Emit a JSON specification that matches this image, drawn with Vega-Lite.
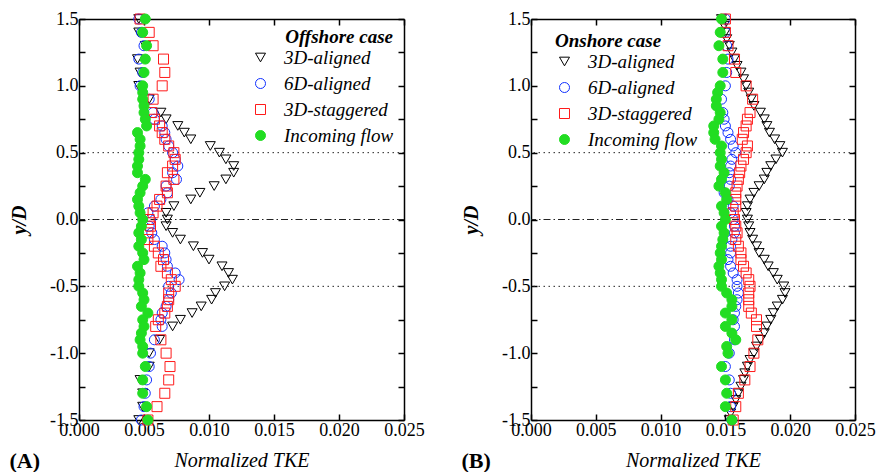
{
"$schema":"https://vega.github.io/schema/vega-lite/v6.json",
"background":"white",
"padding":{"left":9,"top":10,"right":0,"bottom":0},
"config":{
 "font":"Liberation Serif, Times New Roman, Times, serif",
 "view":{"stroke":null},
 "axis":{"labelFont":"Liberation Serif, Times New Roman, Times, serif","labelFontSize":18,"labelColor":"black","labelFlush":false,"titleFont":"Liberation Serif, Times New Roman, Times, serif","titleColor":"black","titleFontSize":20,"titleFontStyle":"italic","titleFontWeight":"normal","domainColor":"black","domainWidth":1.5,"tickColor":"black","tickSize":-6,"tickWidth":1.5,"grid":false,"labelPadding":7},
 "legend":{"labelFont":"Liberation Serif, Times New Roman, Times, serif","labelFontSize":19,"labelFontStyle":"italic","labelColor":"black","titleFont":"Liberation Serif, Times New Roman, Times, serif","titleFontSize":19,"titleFontStyle":"italic","titleFontWeight":"bold","titleColor":"black","symbolSize":100,"symbolStrokeWidth":1,"symbolStrokeColor":"#ff1a1a","symbolFillColor":"transparent","rowPadding":6,"labelOffset":14,"padding":0,"titlePadding":1},
 "title":{"font":"Liberation Serif, Times New Roman, Times, serif","fontSize":22,"fontWeight":"bold","color":"black"}
},
"datasets":{
"offshore":[
{"s":"3D-aligned","y":1.5,"v":0.0046},{"s":"3D-aligned","y":1.4,"v":0.0046},{"s":"3D-aligned","y":1.3,"v":0.0051},{"s":"3D-aligned","y":1.2,"v":0.0045},{"s":"3D-aligned","y":1.1,"v":0.0047},{"s":"3D-aligned","y":1.0,"v":0.0046},{"s":"3D-aligned","y":0.9,"v":0.0054},{"s":"3D-aligned","y":0.8,"v":0.0063},{"s":"3D-aligned","y":0.75,"v":0.0067},{"s":"3D-aligned","y":0.7,"v":0.0076},{"s":"3D-aligned","y":0.65,"v":0.0081},{"s":"3D-aligned","y":0.6,"v":0.0086},{"s":"3D-aligned","y":0.55,"v":0.0101},{"s":"3D-aligned","y":0.5,"v":0.0108},{"s":"3D-aligned","y":0.45,"v":0.0113},{"s":"3D-aligned","y":0.4,"v":0.0119},{"s":"3D-aligned","y":0.35,"v":0.0119},{"s":"3D-aligned","y":0.3,"v":0.0113},{"s":"3D-aligned","y":0.25,"v":0.0104},{"s":"3D-aligned","y":0.2,"v":0.0093},{"s":"3D-aligned","y":0.15,"v":0.0086},{"s":"3D-aligned","y":0.1,"v":0.0073},{"s":"3D-aligned","y":0.05,"v":0.0067},{"s":"3D-aligned","y":0,"v":0.0068},{"s":"3D-aligned","y":-0.05,"v":0.0067},{"s":"3D-aligned","y":-0.1,"v":0.0072},{"s":"3D-aligned","y":-0.15,"v":0.0078},{"s":"3D-aligned","y":-0.2,"v":0.0088},{"s":"3D-aligned","y":-0.25,"v":0.0095},{"s":"3D-aligned","y":-0.3,"v":0.0100},{"s":"3D-aligned","y":-0.35,"v":0.0110},{"s":"3D-aligned","y":-0.4,"v":0.0115},{"s":"3D-aligned","y":-0.45,"v":0.0118},{"s":"3D-aligned","y":-0.5,"v":0.0112},{"s":"3D-aligned","y":-0.55,"v":0.0105},{"s":"3D-aligned","y":-0.6,"v":0.0102},{"s":"3D-aligned","y":-0.65,"v":0.0094},{"s":"3D-aligned","y":-0.7,"v":0.0087},{"s":"3D-aligned","y":-0.75,"v":0.0078},{"s":"3D-aligned","y":-0.8,"v":0.0072},{"s":"3D-aligned","y":-0.9,"v":0.0062},{"s":"3D-aligned","y":-1.0,"v":0.0054},{"s":"3D-aligned","y":-1.1,"v":0.0054},{"s":"3D-aligned","y":-1.2,"v":0.0047},{"s":"3D-aligned","y":-1.3,"v":0.0049},{"s":"3D-aligned","y":-1.4,"v":0.0049},{"s":"3D-aligned","y":-1.5,"v":0.0046},
{"s":"6D-aligned","y":1.5,"v":0.0046},{"s":"6D-aligned","y":1.4,"v":0.0048},{"s":"6D-aligned","y":1.3,"v":0.0050},{"s":"6D-aligned","y":1.2,"v":0.0046},{"s":"6D-aligned","y":1.1,"v":0.0049},{"s":"6D-aligned","y":1.0,"v":0.0047},{"s":"6D-aligned","y":0.9,"v":0.0054},{"s":"6D-aligned","y":0.8,"v":0.0057},{"s":"6D-aligned","y":0.75,"v":0.0058},{"s":"6D-aligned","y":0.7,"v":0.0064},{"s":"6D-aligned","y":0.65,"v":0.0066},{"s":"6D-aligned","y":0.6,"v":0.0067},{"s":"6D-aligned","y":0.55,"v":0.0069},{"s":"6D-aligned","y":0.5,"v":0.0072},{"s":"6D-aligned","y":0.45,"v":0.0074},{"s":"6D-aligned","y":0.4,"v":0.0076},{"s":"6D-aligned","y":0.35,"v":0.0072},{"s":"6D-aligned","y":0.3,"v":0.0075},{"s":"6D-aligned","y":0.25,"v":0.0067},{"s":"6D-aligned","y":0.2,"v":0.0068},{"s":"6D-aligned","y":0.15,"v":0.0063},{"s":"6D-aligned","y":0.1,"v":0.0058},{"s":"6D-aligned","y":0.05,"v":0.0053},{"s":"6D-aligned","y":0,"v":0.0055},{"s":"6D-aligned","y":-0.05,"v":0.0054},{"s":"6D-aligned","y":-0.1,"v":0.0056},{"s":"6D-aligned","y":-0.15,"v":0.0058},{"s":"6D-aligned","y":-0.2,"v":0.0064},{"s":"6D-aligned","y":-0.25,"v":0.0066},{"s":"6D-aligned","y":-0.3,"v":0.0067},{"s":"6D-aligned","y":-0.35,"v":0.0068},{"s":"6D-aligned","y":-0.4,"v":0.0074},{"s":"6D-aligned","y":-0.45,"v":0.0077},{"s":"6D-aligned","y":-0.5,"v":0.0069},{"s":"6D-aligned","y":-0.55,"v":0.0071},{"s":"6D-aligned","y":-0.6,"v":0.0069},{"s":"6D-aligned","y":-0.65,"v":0.0067},{"s":"6D-aligned","y":-0.7,"v":0.0064},{"s":"6D-aligned","y":-0.75,"v":0.0063},{"s":"6D-aligned","y":-0.8,"v":0.0064},{"s":"6D-aligned","y":-0.9,"v":0.0058},{"s":"6D-aligned","y":-1.0,"v":0.0055},{"s":"6D-aligned","y":-1.1,"v":0.0054},{"s":"6D-aligned","y":-1.2,"v":0.0052},{"s":"6D-aligned","y":-1.3,"v":0.0051},{"s":"6D-aligned","y":-1.4,"v":0.0050},{"s":"6D-aligned","y":-1.5,"v":0.0048},
{"s":"3D-staggered","y":1.5,"v":0.0047},{"s":"3D-staggered","y":1.4,"v":0.0054},{"s":"3D-staggered","y":1.3,"v":0.0057},{"s":"3D-staggered","y":1.2,"v":0.0065},{"s":"3D-staggered","y":1.1,"v":0.0066},{"s":"3D-staggered","y":1.0,"v":0.0064},{"s":"3D-staggered","y":0.9,"v":0.0057},{"s":"3D-staggered","y":0.8,"v":0.0056},{"s":"3D-staggered","y":0.75,"v":0.0058},{"s":"3D-staggered","y":0.7,"v":0.0062},{"s":"3D-staggered","y":0.65,"v":0.0064},{"s":"3D-staggered","y":0.6,"v":0.0066},{"s":"3D-staggered","y":0.55,"v":0.0069},{"s":"3D-staggered","y":0.5,"v":0.0073},{"s":"3D-staggered","y":0.45,"v":0.0074},{"s":"3D-staggered","y":0.4,"v":0.0072},{"s":"3D-staggered","y":0.35,"v":0.0068},{"s":"3D-staggered","y":0.3,"v":0.0073},{"s":"3D-staggered","y":0.25,"v":0.0067},{"s":"3D-staggered","y":0.2,"v":0.0068},{"s":"3D-staggered","y":0.15,"v":0.0062},{"s":"3D-staggered","y":0.1,"v":0.0060},{"s":"3D-staggered","y":0.05,"v":0.0057},{"s":"3D-staggered","y":0,"v":0.0054},{"s":"3D-staggered","y":-0.05,"v":0.0055},{"s":"3D-staggered","y":-0.1,"v":0.0053},{"s":"3D-staggered","y":-0.15,"v":0.0053},{"s":"3D-staggered","y":-0.2,"v":0.0058},{"s":"3D-staggered","y":-0.25,"v":0.0061},{"s":"3D-staggered","y":-0.3,"v":0.0065},{"s":"3D-staggered","y":-0.35,"v":0.0063},{"s":"3D-staggered","y":-0.4,"v":0.0068},{"s":"3D-staggered","y":-0.45,"v":0.0071},{"s":"3D-staggered","y":-0.5,"v":0.0074},{"s":"3D-staggered","y":-0.55,"v":0.0069},{"s":"3D-staggered","y":-0.6,"v":0.0069},{"s":"3D-staggered","y":-0.65,"v":0.0068},{"s":"3D-staggered","y":-0.7,"v":0.0066},{"s":"3D-staggered","y":-0.75,"v":0.0061},{"s":"3D-staggered","y":-0.8,"v":0.0059},{"s":"3D-staggered","y":-0.9,"v":0.0063},{"s":"3D-staggered","y":-1.0,"v":0.0067},{"s":"3D-staggered","y":-1.1,"v":0.0070},{"s":"3D-staggered","y":-1.2,"v":0.0069},{"s":"3D-staggered","y":-1.3,"v":0.0066},{"s":"3D-staggered","y":-1.4,"v":0.0060},{"s":"3D-staggered","y":-1.5,"v":0.0053},
{"s":"Incoming flow","y":1.5,"v":0.0051},{"s":"Incoming flow","y":1.4,"v":0.0049},{"s":"Incoming flow","y":1.3,"v":0.0052},{"s":"Incoming flow","y":1.2,"v":0.0051},{"s":"Incoming flow","y":1.1,"v":0.0050},{"s":"Incoming flow","y":1.0,"v":0.0049},{"s":"Incoming flow","y":0.95,"v":0.0049},{"s":"Incoming flow","y":0.9,"v":0.0049},{"s":"Incoming flow","y":0.85,"v":0.0050},{"s":"Incoming flow","y":0.8,"v":0.0050},{"s":"Incoming flow","y":0.75,"v":0.0051},{"s":"Incoming flow","y":0.7,"v":0.0052},{"s":"Incoming flow","y":0.65,"v":0.0045},{"s":"Incoming flow","y":0.6,"v":0.0047},{"s":"Incoming flow","y":0.55,"v":0.0047},{"s":"Incoming flow","y":0.5,"v":0.0046},{"s":"Incoming flow","y":0.45,"v":0.0046},{"s":"Incoming flow","y":0.4,"v":0.0045},{"s":"Incoming flow","y":0.35,"v":0.0045},{"s":"Incoming flow","y":0.3,"v":0.0051},{"s":"Incoming flow","y":0.25,"v":0.0049},{"s":"Incoming flow","y":0.2,"v":0.0047},{"s":"Incoming flow","y":0.15,"v":0.0045},{"s":"Incoming flow","y":0.1,"v":0.0046},{"s":"Incoming flow","y":0.05,"v":0.0047},{"s":"Incoming flow","y":0,"v":0.0049},{"s":"Incoming flow","y":-0.05,"v":0.0048},{"s":"Incoming flow","y":-0.1,"v":0.0046},{"s":"Incoming flow","y":-0.15,"v":0.0048},{"s":"Incoming flow","y":-0.2,"v":0.0046},{"s":"Incoming flow","y":-0.25,"v":0.0049},{"s":"Incoming flow","y":-0.3,"v":0.0050},{"s":"Incoming flow","y":-0.35,"v":0.0045},{"s":"Incoming flow","y":-0.4,"v":0.0047},{"s":"Incoming flow","y":-0.45,"v":0.0046},{"s":"Incoming flow","y":-0.5,"v":0.0046},{"s":"Incoming flow","y":-0.55,"v":0.0049},{"s":"Incoming flow","y":-0.6,"v":0.0050},{"s":"Incoming flow","y":-0.65,"v":0.0048},{"s":"Incoming flow","y":-0.7,"v":0.0053},{"s":"Incoming flow","y":-0.75,"v":0.0049},{"s":"Incoming flow","y":-0.8,"v":0.0050},{"s":"Incoming flow","y":-0.85,"v":0.0048},{"s":"Incoming flow","y":-0.9,"v":0.0047},{"s":"Incoming flow","y":-0.95,"v":0.0049},{"s":"Incoming flow","y":-1.0,"v":0.0049},{"s":"Incoming flow","y":-1.1,"v":0.0051},{"s":"Incoming flow","y":-1.2,"v":0.0049},{"s":"Incoming flow","y":-1.3,"v":0.0049},{"s":"Incoming flow","y":-1.4,"v":0.0052},{"s":"Incoming flow","y":-1.5,"v":0.0053}
],
"onshore":[
{"s":"3D-aligned","y":1.5,"v":0.0147},{"s":"3D-aligned","y":1.45,"v":0.0149},{"s":"3D-aligned","y":1.4,"v":0.0150},{"s":"3D-aligned","y":1.35,"v":0.0151},{"s":"3D-aligned","y":1.3,"v":0.0153},{"s":"3D-aligned","y":1.25,"v":0.0155},{"s":"3D-aligned","y":1.2,"v":0.0157},{"s":"3D-aligned","y":1.15,"v":0.0159},{"s":"3D-aligned","y":1.1,"v":0.0162},{"s":"3D-aligned","y":1.05,"v":0.0164},{"s":"3D-aligned","y":1.0,"v":0.0166},{"s":"3D-aligned","y":0.95,"v":0.0168},{"s":"3D-aligned","y":0.9,"v":0.0170},{"s":"3D-aligned","y":0.85,"v":0.0172},{"s":"3D-aligned","y":0.8,"v":0.0177},{"s":"3D-aligned","y":0.75,"v":0.0180},{"s":"3D-aligned","y":0.7,"v":0.0182},{"s":"3D-aligned","y":0.65,"v":0.0184},{"s":"3D-aligned","y":0.6,"v":0.0188},{"s":"3D-aligned","y":0.55,"v":0.0192},{"s":"3D-aligned","y":0.5,"v":0.0194},{"s":"3D-aligned","y":0.45,"v":0.0189},{"s":"3D-aligned","y":0.4,"v":0.0185},{"s":"3D-aligned","y":0.35,"v":0.0182},{"s":"3D-aligned","y":0.3,"v":0.0180},{"s":"3D-aligned","y":0.25,"v":0.0176},{"s":"3D-aligned","y":0.2,"v":0.0172},{"s":"3D-aligned","y":0.15,"v":0.0169},{"s":"3D-aligned","y":0.1,"v":0.0167},{"s":"3D-aligned","y":0.05,"v":0.0166},{"s":"3D-aligned","y":0,"v":0.0167},{"s":"3D-aligned","y":-0.05,"v":0.0168},{"s":"3D-aligned","y":-0.1,"v":0.0169},{"s":"3D-aligned","y":-0.15,"v":0.0171},{"s":"3D-aligned","y":-0.2,"v":0.0174},{"s":"3D-aligned","y":-0.25,"v":0.0176},{"s":"3D-aligned","y":-0.3,"v":0.0180},{"s":"3D-aligned","y":-0.35,"v":0.0183},{"s":"3D-aligned","y":-0.4,"v":0.0187},{"s":"3D-aligned","y":-0.45,"v":0.0190},{"s":"3D-aligned","y":-0.5,"v":0.0195},{"s":"3D-aligned","y":-0.55,"v":0.0196},{"s":"3D-aligned","y":-0.6,"v":0.0194},{"s":"3D-aligned","y":-0.65,"v":0.0190},{"s":"3D-aligned","y":-0.7,"v":0.0187},{"s":"3D-aligned","y":-0.75,"v":0.0185},{"s":"3D-aligned","y":-0.8,"v":0.0182},{"s":"3D-aligned","y":-0.85,"v":0.0180},{"s":"3D-aligned","y":-0.9,"v":0.0177},{"s":"3D-aligned","y":-0.95,"v":0.0174},{"s":"3D-aligned","y":-1.0,"v":0.0172},{"s":"3D-aligned","y":-1.05,"v":0.0169},{"s":"3D-aligned","y":-1.1,"v":0.0167},{"s":"3D-aligned","y":-1.15,"v":0.0165},{"s":"3D-aligned","y":-1.2,"v":0.0164},{"s":"3D-aligned","y":-1.25,"v":0.0162},{"s":"3D-aligned","y":-1.3,"v":0.0160},{"s":"3D-aligned","y":-1.35,"v":0.0158},{"s":"3D-aligned","y":-1.4,"v":0.0156},{"s":"3D-aligned","y":-1.45,"v":0.0154},{"s":"3D-aligned","y":-1.5,"v":0.0153},
{"s":"6D-aligned","y":1.5,"v":0.0150},{"s":"6D-aligned","y":1.4,"v":0.0150},{"s":"6D-aligned","y":1.3,"v":0.0151},{"s":"6D-aligned","y":1.2,"v":0.0152},{"s":"6D-aligned","y":1.1,"v":0.0151},{"s":"6D-aligned","y":1.0,"v":0.0150},{"s":"6D-aligned","y":0.9,"v":0.0147},{"s":"6D-aligned","y":0.8,"v":0.0148},{"s":"6D-aligned","y":0.75,"v":0.0149},{"s":"6D-aligned","y":0.7,"v":0.0150},{"s":"6D-aligned","y":0.65,"v":0.0152},{"s":"6D-aligned","y":0.6,"v":0.0154},{"s":"6D-aligned","y":0.55,"v":0.0156},{"s":"6D-aligned","y":0.5,"v":0.0158},{"s":"6D-aligned","y":0.45,"v":0.0155},{"s":"6D-aligned","y":0.4,"v":0.0154},{"s":"6D-aligned","y":0.35,"v":0.0153},{"s":"6D-aligned","y":0.3,"v":0.0154},{"s":"6D-aligned","y":0.25,"v":0.0153},{"s":"6D-aligned","y":0.2,"v":0.0149},{"s":"6D-aligned","y":0.15,"v":0.0152},{"s":"6D-aligned","y":0.1,"v":0.0156},{"s":"6D-aligned","y":0.05,"v":0.0154},{"s":"6D-aligned","y":0,"v":0.0156},{"s":"6D-aligned","y":-0.05,"v":0.0157},{"s":"6D-aligned","y":-0.1,"v":0.0157},{"s":"6D-aligned","y":-0.15,"v":0.0155},{"s":"6D-aligned","y":-0.2,"v":0.0154},{"s":"6D-aligned","y":-0.25,"v":0.0154},{"s":"6D-aligned","y":-0.3,"v":0.0152},{"s":"6D-aligned","y":-0.35,"v":0.0154},{"s":"6D-aligned","y":-0.4,"v":0.0156},{"s":"6D-aligned","y":-0.45,"v":0.0159},{"s":"6D-aligned","y":-0.5,"v":0.0159},{"s":"6D-aligned","y":-0.55,"v":0.0160},{"s":"6D-aligned","y":-0.6,"v":0.0159},{"s":"6D-aligned","y":-0.65,"v":0.0158},{"s":"6D-aligned","y":-0.7,"v":0.0157},{"s":"6D-aligned","y":-0.75,"v":0.0156},{"s":"6D-aligned","y":-0.8,"v":0.0157},{"s":"6D-aligned","y":-0.9,"v":0.0157},{"s":"6D-aligned","y":-1.0,"v":0.0153},{"s":"6D-aligned","y":-1.1,"v":0.0150},{"s":"6D-aligned","y":-1.2,"v":0.0153},{"s":"6D-aligned","y":-1.3,"v":0.0154},{"s":"6D-aligned","y":-1.4,"v":0.0154},{"s":"6D-aligned","y":-1.5,"v":0.0155},
{"s":"3D-staggered","y":1.5,"v":0.0150},{"s":"3D-staggered","y":1.4,"v":0.0150},{"s":"3D-staggered","y":1.3,"v":0.0152},{"s":"3D-staggered","y":1.2,"v":0.0157},{"s":"3D-staggered","y":1.1,"v":0.0158},{"s":"3D-staggered","y":1.0,"v":0.0166},{"s":"3D-staggered","y":0.9,"v":0.0171},{"s":"3D-staggered","y":0.8,"v":0.0169},{"s":"3D-staggered","y":0.75,"v":0.0167},{"s":"3D-staggered","y":0.7,"v":0.0166},{"s":"3D-staggered","y":0.65,"v":0.0164},{"s":"3D-staggered","y":0.6,"v":0.0163},{"s":"3D-staggered","y":0.55,"v":0.0167},{"s":"3D-staggered","y":0.5,"v":0.0166},{"s":"3D-staggered","y":0.45,"v":0.0164},{"s":"3D-staggered","y":0.4,"v":0.0162},{"s":"3D-staggered","y":0.35,"v":0.0161},{"s":"3D-staggered","y":0.3,"v":0.0160},{"s":"3D-staggered","y":0.25,"v":0.0159},{"s":"3D-staggered","y":0.2,"v":0.0158},{"s":"3D-staggered","y":0.15,"v":0.0158},{"s":"3D-staggered","y":0.1,"v":0.0158},{"s":"3D-staggered","y":0.05,"v":0.0156},{"s":"3D-staggered","y":0,"v":0.0157},{"s":"3D-staggered","y":-0.05,"v":0.0158},{"s":"3D-staggered","y":-0.1,"v":0.0159},{"s":"3D-staggered","y":-0.15,"v":0.0158},{"s":"3D-staggered","y":-0.2,"v":0.0160},{"s":"3D-staggered","y":-0.25,"v":0.0162},{"s":"3D-staggered","y":-0.3,"v":0.0162},{"s":"3D-staggered","y":-0.35,"v":0.0164},{"s":"3D-staggered","y":-0.4,"v":0.0166},{"s":"3D-staggered","y":-0.45,"v":0.0168},{"s":"3D-staggered","y":-0.5,"v":0.0169},{"s":"3D-staggered","y":-0.55,"v":0.0168},{"s":"3D-staggered","y":-0.6,"v":0.0168},{"s":"3D-staggered","y":-0.65,"v":0.0168},{"s":"3D-staggered","y":-0.7,"v":0.0170},{"s":"3D-staggered","y":-0.75,"v":0.0174},{"s":"3D-staggered","y":-0.8,"v":0.0174},{"s":"3D-staggered","y":-0.9,"v":0.0175},{"s":"3D-staggered","y":-1.0,"v":0.0172},{"s":"3D-staggered","y":-1.1,"v":0.0169},{"s":"3D-staggered","y":-1.2,"v":0.0165},{"s":"3D-staggered","y":-1.3,"v":0.0160},{"s":"3D-staggered","y":-1.4,"v":0.0158},{"s":"3D-staggered","y":-1.5,"v":0.0156},
{"s":"Incoming flow","y":1.5,"v":0.0147},{"s":"Incoming flow","y":1.4,"v":0.0146},{"s":"Incoming flow","y":1.3,"v":0.0145},{"s":"Incoming flow","y":1.2,"v":0.0148},{"s":"Incoming flow","y":1.1,"v":0.0148},{"s":"Incoming flow","y":1.0,"v":0.0146},{"s":"Incoming flow","y":0.95,"v":0.0144},{"s":"Incoming flow","y":0.9,"v":0.0143},{"s":"Incoming flow","y":0.85,"v":0.0143},{"s":"Incoming flow","y":0.8,"v":0.0146},{"s":"Incoming flow","y":0.75,"v":0.0145},{"s":"Incoming flow","y":0.7,"v":0.0141},{"s":"Incoming flow","y":0.65,"v":0.0141},{"s":"Incoming flow","y":0.6,"v":0.0142},{"s":"Incoming flow","y":0.55,"v":0.0147},{"s":"Incoming flow","y":0.5,"v":0.0146},{"s":"Incoming flow","y":0.45,"v":0.0147},{"s":"Incoming flow","y":0.4,"v":0.0146},{"s":"Incoming flow","y":0.35,"v":0.0149},{"s":"Incoming flow","y":0.3,"v":0.0147},{"s":"Incoming flow","y":0.25,"v":0.0145},{"s":"Incoming flow","y":0.2,"v":0.0150},{"s":"Incoming flow","y":0.15,"v":0.0151},{"s":"Incoming flow","y":0.1,"v":0.0147},{"s":"Incoming flow","y":0.05,"v":0.0149},{"s":"Incoming flow","y":0,"v":0.0150},{"s":"Incoming flow","y":-0.05,"v":0.0147},{"s":"Incoming flow","y":-0.1,"v":0.0149},{"s":"Incoming flow","y":-0.15,"v":0.0148},{"s":"Incoming flow","y":-0.2,"v":0.0147},{"s":"Incoming flow","y":-0.25,"v":0.0146},{"s":"Incoming flow","y":-0.3,"v":0.0147},{"s":"Incoming flow","y":-0.35,"v":0.0145},{"s":"Incoming flow","y":-0.4,"v":0.0146},{"s":"Incoming flow","y":-0.45,"v":0.0147},{"s":"Incoming flow","y":-0.5,"v":0.0147},{"s":"Incoming flow","y":-0.55,"v":0.0151},{"s":"Incoming flow","y":-0.6,"v":0.0155},{"s":"Incoming flow","y":-0.65,"v":0.0155},{"s":"Incoming flow","y":-0.7,"v":0.0150},{"s":"Incoming flow","y":-0.75,"v":0.0155},{"s":"Incoming flow","y":-0.8,"v":0.0150},{"s":"Incoming flow","y":-0.85,"v":0.0155},{"s":"Incoming flow","y":-0.9,"v":0.0158},{"s":"Incoming flow","y":-0.95,"v":0.0151},{"s":"Incoming flow","y":-1.0,"v":0.0152},{"s":"Incoming flow","y":-1.1,"v":0.0147},{"s":"Incoming flow","y":-1.2,"v":0.0150},{"s":"Incoming flow","y":-1.3,"v":0.0151},{"s":"Incoming flow","y":-1.4,"v":0.0150},{"s":"Incoming flow","y":-1.5,"v":0.0155}
]
},
"spacing":36,
"hconcat":[
{
 "width":325,"height":401,
 "title":{"text":"(A)","orient":"bottom","anchor":"start","frame":"bounds","offset":-19},
 "layer":[
  {"data":{"values":[{"y":0.5},{"y":-0.5}]},"mark":{"type":"rule","strokeDash":[1.5,3.5],"strokeWidth":1,"color":"#222"},"encoding":{"y":{"field":"y","type":"quantitative","axis":null,"scale":{"domain":[-1.5,1.5],"nice":false,"zero":false}}}},
  {"data":{"values":[{"y":0}]},"mark":{"type":"rule","strokeDash":[7,3,1.5,3],"strokeWidth":1,"color":"#222"},"encoding":{"y":{"field":"y","type":"quantitative","axis":null,"scale":{"domain":[-1.5,1.5],"nice":false,"zero":false}}}},
  {"data":{"name":"offshore"},"mark":{"type":"point","opacity":0},
   "encoding":{
    "x":{"field":"v","type":"quantitative","scale":{"domain":[0,0.025],"nice":false,"zero":false},"axis":{"orient":"top","labels":false,"title":null,"values":[0,0.005,0.01,0.015,0.02,0.025]}},
    "y":{"field":"y","type":"quantitative","scale":{"domain":[-1.5,1.5],"nice":false,"zero":false},"axis":{"orient":"right","labels":false,"title":null,"values":[-1.5,-1.25,-1,-0.75,-0.5,-0.25,0,0.25,0.5,0.75,1,1.25,1.5]}}}},
  {"data":{"name":"offshore"},"mark":{"type":"point","filled":false,"size":100,"strokeWidth":1,"opacity":1},
   "encoding":{
    "x":{"field":"v","type":"quantitative","scale":{"domain":[0,0.025],"nice":false,"zero":false},"axis":{"orient":"bottom","title":"Normalized TKE","titlePadding":11,"values":[0,0.005,0.01,0.015,0.02,0.025],"format":".3f"}},
    "y":{"field":"y","type":"quantitative","scale":{"domain":[-1.5,1.5],"nice":false,"zero":false},"axis":{"orient":"left","title":"y/D","titleFontWeight":"bold","titlePadding":20,"values":[-1.5,-1.25,-1,-0.75,-0.5,-0.25,0,0.25,0.5,0.75,1,1.25,1.5],"labelExpr":"datum.value % 0.5 == 0 ? (datum.value < 0 ? '-' : '') + format(abs(datum.value), '.1f') : ''"}},
    "shape":{"field":"s","type":"nominal","scale":{"domain":["3D-aligned","6D-aligned","3D-staggered","Incoming flow"],"range":["triangle-down","circle","square","circle"]},"legend":{"title":"Offshore case","orient":"none","legendX":172,"legendY":9,"titleAnchor":"end","encode":{"symbols":{"update":{"stroke":{"signal":"datum.value === '3D-aligned' ? 'black' : datum.value === '6D-aligned' ? '#1030ff' : datum.value === '3D-staggered' ? '#ff1a1a' : '#22dd22'"},"fill":{"signal":"datum.value === 'Incoming flow' ? '#22dd22' : 'transparent'"}}}}}},
    "color":{"field":"s","type":"nominal","scale":{"domain":["3D-aligned","6D-aligned","3D-staggered","Incoming flow"],"range":["black","#1030ff","#ff1a1a","#22dd22"]},"legend":{"title":"Offshore case","orient":"none","legendX":172,"legendY":9,"titleAnchor":"end","encode":{"symbols":{"update":{"stroke":{"signal":"datum.value === '3D-aligned' ? 'black' : datum.value === '6D-aligned' ? '#1030ff' : datum.value === '3D-staggered' ? '#ff1a1a' : '#22dd22'"},"fill":{"signal":"datum.value === 'Incoming flow' ? '#22dd22' : 'transparent'"}}}}}},
    "fill":{"field":"s","type":"nominal","scale":{"domain":["3D-aligned","6D-aligned","3D-staggered","Incoming flow"],"range":["transparent","transparent","transparent","#22dd22"]},"legend":{"title":"Offshore case","orient":"none","legendX":172,"legendY":9,"titleAnchor":"end","encode":{"symbols":{"update":{"stroke":{"signal":"datum.value === '3D-aligned' ? 'black' : datum.value === '6D-aligned' ? '#1030ff' : datum.value === '3D-staggered' ? '#ff1a1a' : '#22dd22'"},"fill":{"signal":"datum.value === 'Incoming flow' ? '#22dd22' : 'transparent'"}}}}}}
   }}
 ],
 "resolve":{"axis":{"x":"independent","y":"independent"}}
},
{
 "width":324,"height":401,
 "title":{"text":"(B)","orient":"bottom","anchor":"start","frame":"bounds","offset":-19},
 "layer":[
  {"data":{"values":[{"y":0.5},{"y":-0.5}]},"mark":{"type":"rule","strokeDash":[1.5,3.5],"strokeWidth":1,"color":"#222"},"encoding":{"y":{"field":"y","type":"quantitative","axis":null,"scale":{"domain":[-1.5,1.5],"nice":false,"zero":false}}}},
  {"data":{"values":[{"y":0}]},"mark":{"type":"rule","strokeDash":[7,3,1.5,3],"strokeWidth":1,"color":"#222"},"encoding":{"y":{"field":"y","type":"quantitative","axis":null,"scale":{"domain":[-1.5,1.5],"nice":false,"zero":false}}}},
  {"data":{"name":"onshore"},"mark":{"type":"point","opacity":0},
   "encoding":{
    "x":{"field":"v","type":"quantitative","scale":{"domain":[0,0.025],"nice":false,"zero":false},"axis":{"orient":"top","labels":false,"title":null,"values":[0,0.005,0.01,0.015,0.02,0.025]}},
    "y":{"field":"y","type":"quantitative","scale":{"domain":[-1.5,1.5],"nice":false,"zero":false},"axis":{"orient":"right","labels":false,"title":null,"values":[-1.5,-1.25,-1,-0.75,-0.5,-0.25,0,0.25,0.5,0.75,1,1.25,1.5]}}}},
  {"data":{"name":"onshore"},"mark":{"type":"point","filled":false,"size":100,"strokeWidth":1,"opacity":1},
   "encoding":{
    "x":{"field":"v","type":"quantitative","scale":{"domain":[0,0.025],"nice":false,"zero":false},"axis":{"orient":"bottom","title":"Normalized TKE","titlePadding":11,"values":[0,0.005,0.01,0.015,0.02,0.025],"format":".3f"}},
    "y":{"field":"y","type":"quantitative","scale":{"domain":[-1.5,1.5],"nice":false,"zero":false},"axis":{"orient":"left","title":"y/D","titleFontWeight":"bold","titlePadding":20,"values":[-1.5,-1.25,-1,-0.75,-0.5,-0.25,0,0.25,0.5,0.75,1,1.25,1.5],"labelExpr":"datum.value % 0.5 == 0 ? (datum.value < 0 ? '-' : '') + format(abs(datum.value), '.1f') : ''"}},
    "shape":{"field":"s","type":"nominal","scale":{"domain":["3D-aligned","6D-aligned","3D-staggered","Incoming flow"],"range":["triangle-down","circle","square","circle"]},"legend":{"title":"Onshore case","orient":"none","legendX":24,"legendY":13,"titleAnchor":"start","encode":{"symbols":{"update":{"stroke":{"signal":"datum.value === '3D-aligned' ? 'black' : datum.value === '6D-aligned' ? '#1030ff' : datum.value === '3D-staggered' ? '#ff1a1a' : '#22dd22'"},"fill":{"signal":"datum.value === 'Incoming flow' ? '#22dd22' : 'transparent'"}}}}}},
    "color":{"field":"s","type":"nominal","scale":{"domain":["3D-aligned","6D-aligned","3D-staggered","Incoming flow"],"range":["black","#1030ff","#ff1a1a","#22dd22"]},"legend":{"title":"Onshore case","orient":"none","legendX":24,"legendY":13,"titleAnchor":"start","encode":{"symbols":{"update":{"stroke":{"signal":"datum.value === '3D-aligned' ? 'black' : datum.value === '6D-aligned' ? '#1030ff' : datum.value === '3D-staggered' ? '#ff1a1a' : '#22dd22'"},"fill":{"signal":"datum.value === 'Incoming flow' ? '#22dd22' : 'transparent'"}}}}}},
    "fill":{"field":"s","type":"nominal","scale":{"domain":["3D-aligned","6D-aligned","3D-staggered","Incoming flow"],"range":["transparent","transparent","transparent","#22dd22"]},"legend":{"title":"Onshore case","orient":"none","legendX":24,"legendY":13,"titleAnchor":"start","encode":{"symbols":{"update":{"stroke":{"signal":"datum.value === '3D-aligned' ? 'black' : datum.value === '6D-aligned' ? '#1030ff' : datum.value === '3D-staggered' ? '#ff1a1a' : '#22dd22'"},"fill":{"signal":"datum.value === 'Incoming flow' ? '#22dd22' : 'transparent'"}}}}}}
   }}
 ],
 "resolve":{"axis":{"x":"independent","y":"independent"}}
}
],
"resolve":{"scale":{"x":"independent","y":"independent","shape":"independent","color":"independent","fill":"independent"}}
}
